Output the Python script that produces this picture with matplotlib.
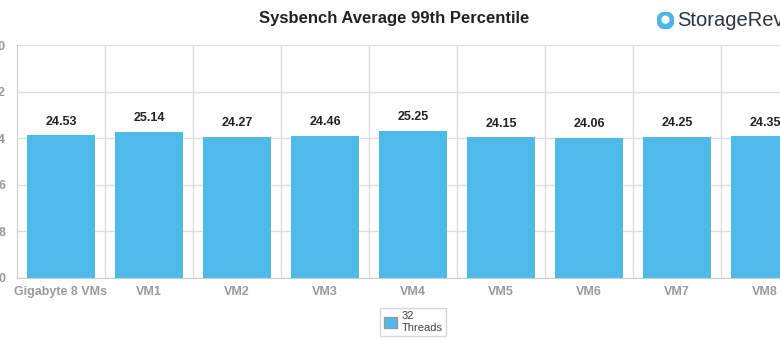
import matplotlib.pyplot as plt
from matplotlib.patches import Patch

CATEGORIES = ["Gigabyte 8 VMs", "VM1", "VM2", "VM3", "VM4", "VM5", "VM6", "VM7", "VM8"]
VALUES = [24.53, 25.14, 24.27, 24.46, 25.25, 24.15, 24.06, 24.25, 24.35]
SERIES = "32\nThreads"
Y_TICKS = [0, 8, 16, 24, 32, 40]

BAR_COLOR = "#4fbaea"
GRID_COLOR = "#dddddd"
LABEL_COLOR = "#9a9a9a"

plt.rcParams["font.family"] = ["Liberation Sans", "DejaVu Sans"]

fig = plt.figure(figsize=(7.8, 3.42), dpi=100)
# axes deliberately run past the right edge, like the original crop
ax = fig.add_axes([17 / 780, 64 / 342, 792 / 780, 233 / 342])

x = list(range(len(CATEGORIES)))
bars = ax.bar(x, VALUES, width=68 / 88, color=BAR_COLOR, zorder=2)

for rect, v in zip(bars, VALUES):
    ax.text(rect.get_x() + rect.get_width() / 2, v + 1.3, f"{v:.2f}",
            ha="center", va="bottom", fontsize=9, fontweight="bold", color="#222222")

ax.set_xlim(-0.5, len(CATEGORIES) - 0.5)
ax.set_ylim(0, 40)
ax.set_yticks(Y_TICKS)
ax.set_yticklabels([str(t) for t in Y_TICKS])
ax.set_xticks(x)
ax.set_xticklabels(CATEGORIES)
ax.tick_params(axis="both", length=0, colors=LABEL_COLOR, labelsize=9)
ax.tick_params(axis="y", pad=8)
ax.tick_params(axis="x", pad=6)
for lbl in ax.get_xticklabels() + ax.get_yticklabels():
    lbl.set_fontweight("bold")

# horizontal grid + vertical separators between categories
ax.yaxis.grid(True, color=GRID_COLOR, linewidth=1, zorder=0)
for b in [i + 0.5 for i in x]:
    ax.axvline(b, color=GRID_COLOR, linewidth=1, zorder=0)
for side in ["top", "right"]:
    ax.spines[side].set_visible(False)
for side in ["left", "bottom"]:
    ax.spines[side].set_color("#cccccc")

fig.text(394 / 780, 1 - 18 / 342, "Sysbench Average 99th Percentile",
         ha="center", va="center", fontsize=12, fontweight="bold", color="#222222")

# StorageReview logo (text only, cropped)
fig.text(677 / 780, 1 - 20 / 342, "StorageRev", ha="left", va="center",
         fontsize=14.5, color="#2b3540")
logo = fig.add_axes([657 / 780, 1 - 29 / 342, 17 / 780, 17 / 342])
logo.add_patch(plt.Circle((0.5, 0.5), 0.5, color="#4fb5e6"))
logo.add_patch(plt.Circle((0.5, 0.55), 0.2, color="white"))
logo.set_xlim(0, 1)
logo.set_ylim(0, 1)
logo.set_aspect("equal")
logo.axis("off")

fig.legend(handles=[Patch(facecolor=BAR_COLOR, edgecolor="#999999", label=SERIES)],
           loc="center", bbox_to_anchor=(413 / 780, 1 - 322 / 342),
           fontsize=8, frameon=True, edgecolor="#cccccc", fancybox=False,
           handlelength=1.2, handleheight=1.2, handletextpad=0.4,
           borderpad=0.3, labelcolor="#444444")

fig.savefig("out.png", dpi=100)
